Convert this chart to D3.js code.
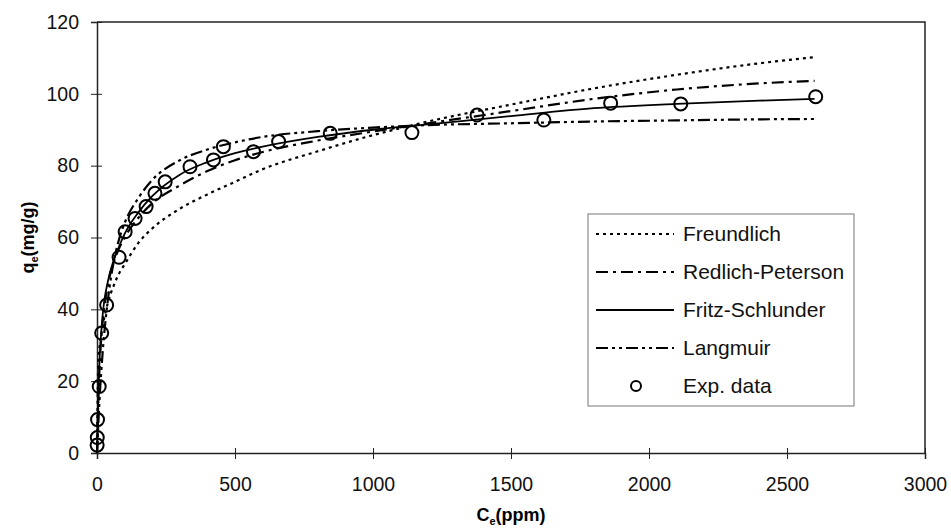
<!DOCTYPE html>
<html lang="en">
    <head>
        <title>Isotherm fits</title>
        <script src="https://d3js.org/d3.v7.min.js"></script>
        <style>
            body { margin: 0; background: #fff; }
            text { font-family: Arial, "Liberation Sans", sans-serif; }
        </style>
    </head>
    <body>
    <div id="mainDiv"></div>

        <script type="text/javascript">
            // readings
            const xTicks = [0, 500, 1000, 1500, 2000, 2500, 3000]
            const yTicks = [0, 20, 40, 60, 80, 100, 120]

            const fitC = [0, 5, 10, 20, 40, 60, 80, 100, 150, 200, 300, 400, 500, 600, 800, 1000, 1200, 1500, 1800, 2100, 2400, 2600]
            const freundlich = [0, 26, 30, 35, 42, 46.5, 50, 52.5, 58.5, 62.5, 68, 72, 75.5, 79, 84, 88.5, 92.3, 97, 101.5, 105.3, 108.5, 110.2]
            const redlichPeterson = [0, 15, 25, 36, 47, 53, 57, 60, 65.5, 69.5, 74.5, 78.5, 81.5, 83.8, 87, 89.5, 91.8, 95.2, 98.6, 101.2, 102.9, 103.6]
            const fritzSchlunder = [0, 17, 27, 38, 48, 53.5, 57.5, 61, 67, 71.5, 77.5, 81, 83.5, 85.3, 88, 90, 91.5, 93.8, 96, 97.2, 98.1, 98.6]
            const langmuir = [0, 8.5, 16, 27.5, 43, 53, 59.5, 64, 71, 76, 81.5, 84.5, 86.5, 88, 89.6, 90.6, 91.3, 91.8, 92.3, 92.6, 92.9, 93]

            const expC = [0.5, 1, 2, 8, 17, 35, 80, 102, 138, 178, 210, 247, 337, 422, 458, 567, 658, 845, 1141, 1377, 1619, 1861, 2115, 2604]
            const expQ = [2.2, 4.3, 9.3, 18.5, 33.4, 41.2, 54.5, 61.6, 65.3, 68.6, 72.3, 75.5, 79.7, 81.6, 85.3, 83.9, 86.7, 89, 89.2, 94.1, 92.7, 97.4, 97.2, 99.2]

            const seriesNames = ['Freundlich', 'Redlich-Peterson', 'Fritz-Schlunder', 'Langmuir']
            const seriesValues = [freundlich, redlichPeterson, fritzSchlunder, langmuir]
            const dashes = ['3,4', '12,5,3,5', null, '12,4,3,4,3,4']

            const width = 951
            const height = 529
            const margins = { top: 22, bottom: 76, left: 97, right: 26 }
            const bounded = {
                width: width - margins.left - margins.right,
                height: height - margins.top - margins.bottom
            }

            const svg = d3.select('#mainDiv').append('svg')
                .attr('width', width)
                .attr('height', height)

            const group = svg.append('g')
                .attr('transform', `translate(${margins.left},${margins.top})`)

            const x = d3.scaleLinear().domain([0, 3000]).range([0, bounded.width])
            const y = d3.scaleLinear().domain([0, 120]).range([bounded.height, 0])

            // frame (top and right)
            group.append('path')
                .attr('d', `M0,0H${bounded.width}V${bounded.height}`)
                .attr('fill', 'none')
                .attr('stroke', '#222')
                .attr('stroke-width', 1.5)

            const xAxis = group.append('g')
                .attr('transform', `translate(0,${bounded.height})`)
                .call(d3.axisBottom(x).tickValues(xTicks).tickFormat(d3.format('d')).tickSize(6).tickPadding(18))
            xAxis.selectAll('.tick line').attr('y1', -5).attr('y2', 6)

            const yAxis = group.append('g')
                .call(d3.axisLeft(y).tickValues(yTicks).tickFormat(d3.format('d')).tickSize(6).tickPadding(12))
            yAxis.selectAll('.tick line').attr('x1', 5).attr('x2', -6)

            svg.selectAll('.domain').attr('stroke', '#222').attr('stroke-width', 1.5)
            svg.selectAll('.tick line').attr('stroke', '#222').attr('stroke-width', 1)
            svg.selectAll('.tick text')
                .attr('font-size', 19.5)
                .attr('fill', '#111')
                .style('font-family', 'Arial, "Liberation Sans", sans-serif')

            // fitted curves
            const line = d3.line()
                .x((d) => x(d[0]))
                .y((d) => y(d[1]))
                .curve(d3.curveMonotoneX)

            seriesValues.forEach((vals, i) => {
                group.append('path')
                    .datum(fitC.map((c, j) => [c, vals[j]]))
                    .attr('d', line)
                    .attr('fill', 'none')
                    .attr('stroke', '#000')
                    .attr('stroke-width', i === 2 ? 1.8 : 2.2)
                    .attr('stroke-dasharray', dashes[i])
            })

            // experimental points
            group.selectAll('circle.exp')
                .data(expC.map((c, j) => [c, expQ[j]]))
                .enter()
                .append('circle')
                .attr('class', 'exp')
                .attr('cx', (d) => x(d[0]))
                .attr('cy', (d) => y(d[1]))
                .attr('r', 6.5)
                .attr('fill', 'none')
                .attr('stroke', '#000')
                .attr('stroke-width', 2)

            // axis titles
            const xt = svg.append('text')
                .attr('x', margins.left + bounded.width / 2)
                .attr('y', 521)
                .attr('text-anchor', 'middle')
                .attr('font-size', 18)
                .attr('font-weight', 'bold')
            xt.append('tspan').text('C')
            xt.append('tspan').text('e').attr('font-size', 11).attr('dy', 4)
            xt.append('tspan').text('(ppm)').attr('dy', -4)

            const yt = svg.append('text')
                .attr('transform', `translate(34,${margins.top + bounded.height / 2}) rotate(-90)`)
                .attr('text-anchor', 'middle')
                .attr('font-size', 18)
                .attr('font-weight', 'bold')
            yt.append('tspan').text('q')
            yt.append('tspan').text('e').attr('font-size', 11).attr('dy', 4)
            yt.append('tspan').text('(mg/g)').attr('dy', -4)

            // legend
            const legend = svg.append('g').attr('transform', 'translate(588,214)')
            legend.append('rect')
                .attr('width', 266)
                .attr('height', 192)
                .attr('fill', '#fff')
                .attr('stroke', '#777')
                .attr('stroke-width', 1)

            const rows = seriesNames.concat(['Exp. data'])
            rows.forEach((name, i) => {
                const ry = 20 + i * 38
                if (i < seriesNames.length) {
                    legend.append('line')
                        .attr('x1', 8).attr('x2', 86)
                        .attr('y1', ry).attr('y2', ry)
                        .attr('stroke', '#000')
                        .attr('stroke-width', i === 2 ? 1.8 : 2.2)
                        .attr('stroke-dasharray', dashes[i])
                } else {
                    legend.append('circle')
                        .attr('cx', 48).attr('cy', ry)
                        .attr('r', 5)
                        .attr('fill', 'none')
                        .attr('stroke', '#000')
                        .attr('stroke-width', 2)
                }
                legend.append('text')
                    .attr('x', 95)
                    .attr('y', ry)
                    .attr('dy', '0.35em')
                    .attr('font-size', 21)
                    .attr('fill', '#111')
                    .text(name)
            })
        </script>
    </body>
</html>
